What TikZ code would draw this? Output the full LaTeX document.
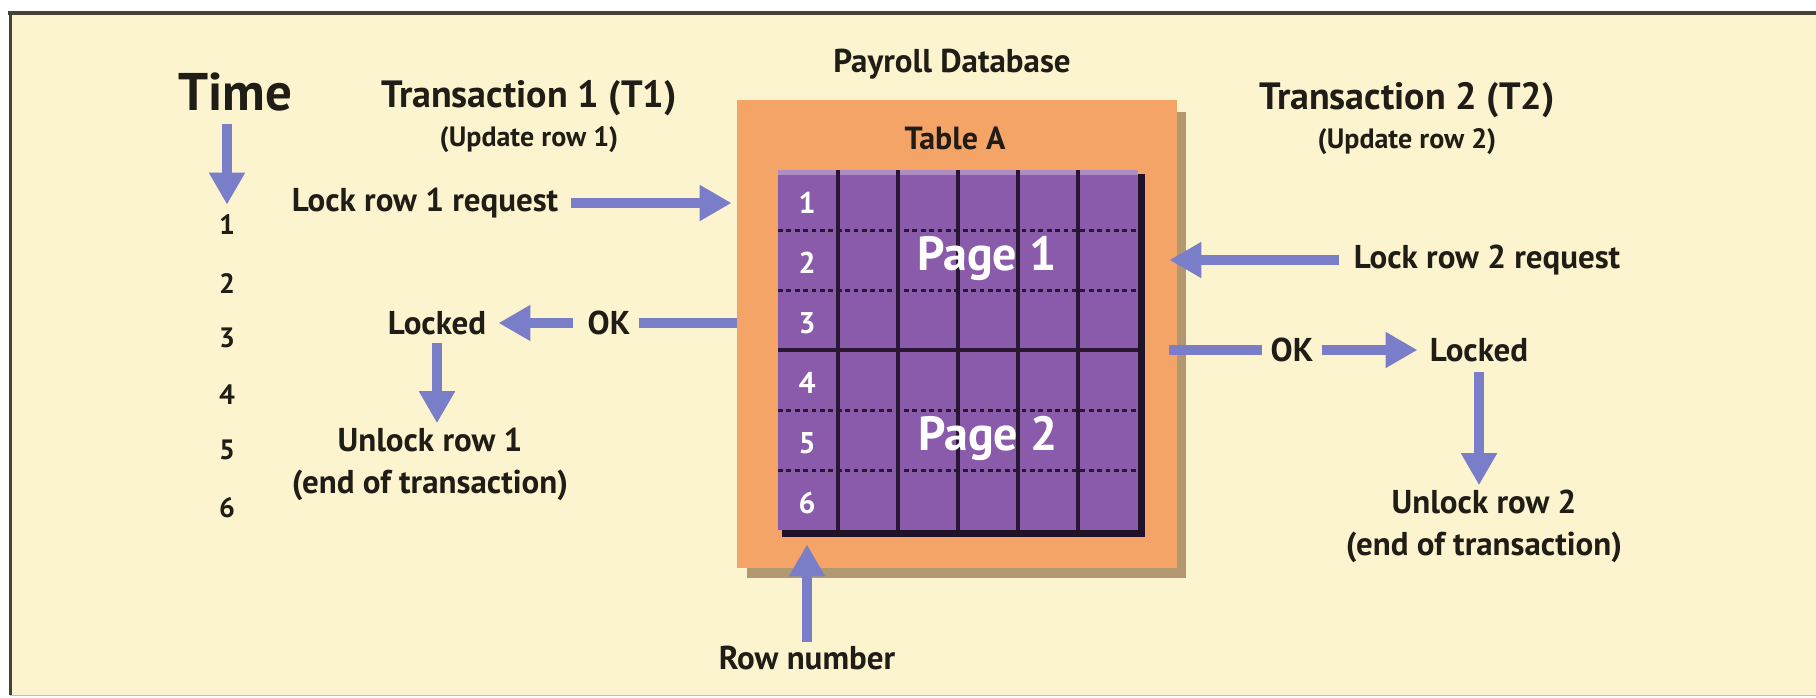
\documentclass[tikz,border=0pt]{standalone}
\usepackage{fontspec}
\setmainfont{PT Sans}
\usetikzlibrary{arrows.meta,positioning}

\definecolor{paper}{RGB}{252,244,206}
\definecolor{frameink}{RGB}{70,66,52}
\definecolor{tangerine}{RGB}{245,164,104}
\definecolor{tanshade}{RGB}{178,152,112}
\definecolor{grape}{RGB}{139,91,171}
\definecolor{gridink}{RGB}{40,22,50}
\definecolor{flowblue}{RGB}{122,126,201}
\definecolor{ink}{RGB}{32,28,22}

\begin{document}
\begin{tikzpicture}[x=0.5pt, y=-0.5pt, node distance=21pt,
  words/.style = {text=ink, inner sep=1pt, align=center, font=\bfseries\fontsize{16.5}{21}\selectfont},
  heading/.style = {words, font=\bfseries\fontsize{19}{22}\selectfont},
  subhead/.style = {words, font=\bfseries\fontsize{14}{16}\selectfont},
  bigword/.style = {words, font=\bfseries\fontsize{26.5}{30}\selectfont},
  timeno/.style = {words, font=\bfseries\fontsize{14}{16}\selectfont},
  rowno/.style = {text=white, inner sep=1pt, font=\bfseries\fontsize{15}{17}\selectfont},
  pagename/.style = {text=white, inner sep=1pt, font=\bfseries\fontsize{24}{27}\selectfont},
  flow/.style = {draw=flowblue, line width=5pt, -{Triangle[length=16pt, width=17pt]}},
  bar/.style = {draw=flowblue, line width=5pt}]
\useasboundingbox (0,0) rectangle (1816,697);
% paper and frame
\fill[white] (0,0) rectangle (1816,697);
\fill[paper] (10,13) rectangle (1816,695);
\draw[frameink, line width=2pt] (8,13) -- (1816,13);
\draw[frameink, line width=1.5pt] (10,13) -- (10,695);
\draw[black!25, line width=0.5pt] (10,695) -- (1816,695);

% database box
\fill[tanshade] (747,112) rectangle (1186,578);
\node[fill=tangerine, minimum width=220pt, minimum height=234pt, inner sep=0pt] (db) at (957,334) {};
\node[words] (payroll) at (952,64) {Payroll Database};
\node[words, font=\bfseries\fontsize{16}{18}\selectfont] (tablea) at (955,138) {Table A};

% table grid
\fill[gridink!80!black] (782,174) rectangle (1145,537);
\node[fill=grape, minimum width=180pt, minimum height=180pt, inner sep=0pt] (grid) at (958,350) {};
\fill[grape!70!white] (778,170) rectangle (1138,175);
\foreach \x in {838,898,958,1018,1078}
  \draw[gridink, line width=1.6pt] (\x,170) -- (\x,530);
\foreach \y in {230,290,410,470}
  \draw[gridink, line width=1.5pt, dash pattern=on 2.4pt off 1.8pt] (778,\y) -- (1138,\y);
\draw[gridink, line width=2pt] (778,350) -- (1138,350);
\foreach \n in {1,...,6}
  \node[rowno] (row\n) at (807,{143+60*\n}) {\n};
\node[pagename] (page1) at (987,258) {Page 1};
\node[pagename] (page2) at (988,438) {Page 2};

% time column
\node[bigword] (time) at (235,92) {Time};
\foreach \n/\y in {1/225,2/283,3/338,4/395,5/450,6/508}
  \node[timeno] (t\n) at (227,\y) {\n};
\draw[flow, shorten <=5pt, shorten >=4pt] (t1 |- time.south) -- (t1.north);

% transaction 1
\node[heading] (trans1) at (529,98) {Transaction 1 (T1)};
\node[subhead] (upd1) [below of=trans1] {(Update row 1)};
\node[words] (req1) at (425,203) {Lock row 1 request};
\node[words] (locked1) at (437,323) {Locked};
\node[words] (ok1) at (609,323) {OK};
\node[words] (unlock1) at (430,464) {Unlock row 1\\(end of transaction)};
\draw[flow, shorten <=5pt, shorten >=2.5pt] (req1.east) -- (req1.east -| db.west);
\draw[bar, shorten >=3pt] (ok1.east -| db.west) -- (ok1.east);
\draw[flow, shorten <=6pt, shorten >=5pt] (ok1.west) -- (locked1.east);
\draw[flow, shorten <=3pt, shorten >=1pt] (locked1.south) -- (locked1.south |- unlock1.north);

% transaction 2
\node[heading] (trans2) at (1407,100) {Transaction 2 (T2)};
\node[subhead] (upd2) [below of=trans2] {(Update row 2)};
\node[words] (req2) at (1487,260) {Lock row 2 request};
\node[words] (ok2) at (1292,350) {OK};
\node[words] (locked2) at (1479,350) {Locked};
\node[words] (unlock2) at (1484,526) {Unlock row 2\\(end of transaction)};
\draw[flow, shorten <=6pt, shorten >=-4pt] (req2.west) -- (req2.west -| db.east);
\draw[bar, shorten <=-4pt, shorten >=3pt] (ok2.west -| db.east) -- (ok2.west);
\draw[flow, shorten <=3pt, shorten >=5pt] (ok2.east) -- (locked2.west);
\draw[flow, shorten <=4pt, shorten >=1pt] (locked2.south) -- (locked2.south |- unlock2.north);

% row number pointer
\node[words] (rownum) at (807,658) {Row number};
\draw[flow, shorten <=1pt, shorten >=7pt] (rownum.north) -- (rownum |- grid.south);
\end{tikzpicture}
\end{document}
